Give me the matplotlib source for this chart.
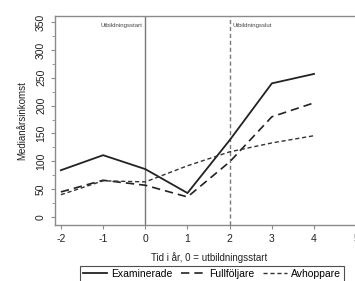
import matplotlib
matplotlib.use("Agg")
import matplotlib.pyplot as plt
from matplotlib.ticker import MultipleLocator

plt.rcParams['font.family'] = ['Liberation Sans', 'DejaVu Sans']
plt.rcParams['axes.unicode_minus'] = False

years = [-2, -1, 0, 1, 2, 3, 4]
examinerade = [84, 111, 86, 43, 138, 240, 257]
fullfoljare = [45, 66, 57, 36, 99, 180, 205]
avhoppare = [40, 65, 63, 92, 117, 133, 146]
xticks = [-2, -1, 0, 1, 2, 3, 4, 5]
yticks = [0, 50, 100, 150, 200, 250, 300, 350]

fig = plt.figure(figsize=(3.55, 2.81), dpi=100)
ax = fig.add_axes([55/355, 1-225/281, (363-55)/355, (225-16)/281])

spine_c = '#8a8a8a'
ax.axvline(0, color='#7a7a7a', lw=1.0)
ax.axvline(2, color='#7a7a7a', lw=1.0, ls=(0, (3, 2)))

l1, = ax.plot(years, examinerade, color='#222222', lw=1.3, ls='-', label='Examinerade')
l2, = ax.plot(years, fullfoljare, color='#222222', lw=1.2, ls=(0, (5, 3)), label='Fullföljare')
l3, = ax.plot(years, avhoppare, color='#333333', lw=1.0, ls=(0, (3, 2)), label='Avhoppare')

ax.text(-0.06, 349, 'Utbildningsstart', fontsize=4.3, ha='right', va='top', color='#444444')
ax.text(2.06, 349, 'Utbildningsslut', fontsize=4.3, ha='left', va='top', color='#444444')

ax.set_xlim(-2.14, 5.16)
ax.set_ylim(-14.4, 361)
ax.set_xticks(xticks)
ax.set_yticks(yticks)
ax.yaxis.set_minor_locator(MultipleLocator(25))
ax.tick_params(axis='both', labelsize=7.5, colors=spine_c, labelcolor='#222222', length=3, width=0.8)
ax.tick_params(axis='y', which='minor', length=2, colors=spine_c)
for lab in ax.get_yticklabels():
    lab.set_rotation(90)
    lab.set_va('center')
for s in ['left', 'bottom', 'top']:
    ax.spines[s].set_color(spine_c)
    ax.spines[s].set_linewidth(1.0)
ax.spines['right'].set_visible(False)

ax.set_xlabel('Tid i år, 0 = utbildningsstart', fontsize=7, color='#222222', labelpad=6)
ax.set_ylabel('Medianårsinkomst', fontsize=7, color='#222222', labelpad=6)

leg = fig.legend(handles=[l1, l2, l3], loc='upper left',
                 bbox_to_anchor=(80/355, 1-266/281), ncol=3, fontsize=7.5,
                 handlelength=2.3, columnspacing=0.8, handletextpad=0.4,
                 frameon=True, fancybox=False, borderaxespad=0, borderpad=0.3)
leg.get_frame().set_edgecolor('#222222')
leg.get_frame().set_linewidth(0.8)

fig.savefig('out.png', dpi=100)
